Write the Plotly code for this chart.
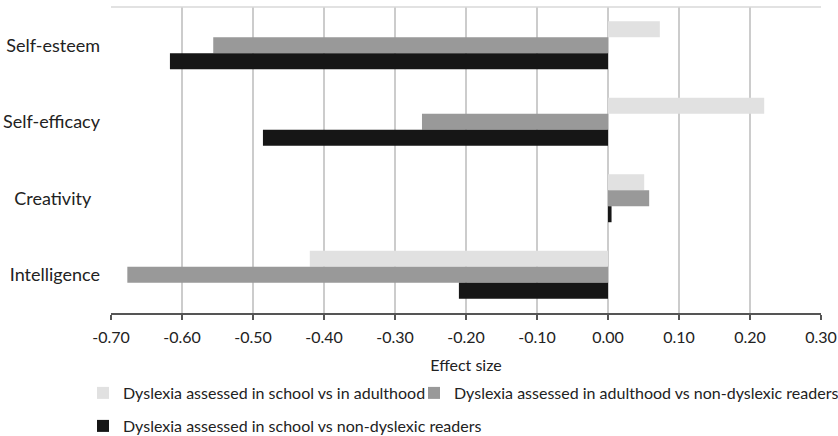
import plotly.graph_objects as go

categories = ["Self-esteem", "Self-efficacy", "Creativity", "Intelligence"]
category_labels = ["Self-esteem", "Self-efficacy", "Creativity\u00a0\u00a0", "Intelligence"]
series_names = [
    "Dyslexia assessed in school vs in adulthood",
    "Dyslexia assessed in adulthood vs non-dyslexic readers",
    "Dyslexia assessed in school vs non-dyslexic readers",
]
school_vs_adult = [0.073, 0.220, 0.051, -0.420]
adult_vs_nondys = [-0.556, -0.262, 0.058, -0.677]
school_vs_nondys = [-0.617, -0.486, 0.005, -0.210]
colors = ["#e1e1e1", "#999999", "#161616"]
legend_ids = ["legend", "legend2", "legend3"]
tick_vals = [-0.7, -0.6, -0.5, -0.4, -0.3, -0.2, -0.1, 0.0, 0.1, 0.2, 0.3]
tick_text = ["-0.70", "-0.60", "-0.50", "-0.40", "-0.30", "-0.20", "-0.10",
             "0.00", "0.10", "0.20", "0.30"]

FONT = "Lato, 'Open Sans', sans-serif"
TXT = "#222222"

fig = go.Figure()
for name, vals, col, lg in zip(series_names,
                               [school_vs_adult, adult_vs_nondys, school_vs_nondys],
                               colors, legend_ids):
    fig.add_trace(go.Bar(
        y=categories, x=vals, name=name, orientation="h", showlegend=True,
        marker=dict(color=col, line=dict(width=0)), legend=lg,
    ))

legend_common = dict(
    orientation="h", xref="container", yref="container",
    xanchor="left", yanchor="middle",
    font=dict(family=FONT, size=16, color=TXT),
    itemclick=False, itemdoubleclick=False,
    bgcolor="rgba(0,0,0,0)",
)

fig.update_layout(
    width=838, height=436, showlegend=True,
    margin=dict(l=111, r=17, t=7, b=123, autoexpand=False),
    paper_bgcolor="white", plot_bgcolor="white",
    barmode="group", bargap=0.373, bargroupgap=0,
    font=dict(family=FONT, size=16, color=TXT),
    xaxis=dict(
        range=[-0.7, 0.3], tickvals=tick_vals, ticktext=tick_text,
        showgrid=True, gridcolor="#cccccc", gridwidth=2,
        zeroline=False, automargin=False,
        showline=True, linecolor="#555555", linewidth=2,
        ticks="outside", ticklen=5, tickwidth=2, tickcolor="#555555",
        ticklabelstandoff=4,
        tickfont=dict(family=FONT, size=16, color=TXT),
        title=dict(text="Effect size", font=dict(family=FONT, size=16, color=TXT)),
    ),
    yaxis=dict(
        autorange="reversed", showgrid=False, zeroline=False, showline=False,
        tickvals=categories, ticktext=category_labels,
        ticks="", ticklabelstandoff=10, automargin=False,
        tickfont=dict(family=FONT, size=18, color=TXT),
    ),
    legend=dict(x=83 / 838, y=1 - 393 / 436, **legend_common),
    legend2=dict(x=414 / 838, y=1 - 393 / 436, **legend_common),
    legend3=dict(x=83 / 838, y=1 - 426 / 436, **legend_common),
    shapes=[dict(type="line", xref="paper", yref="paper", x0=0, x1=1, y0=1, y1=1,
                 line=dict(color="#d9d9d9", width=1.5))],
)

fig.write_html("out.html", config={"displayModeBar": False},
               post_script="document.body.style.margin='0px';")
